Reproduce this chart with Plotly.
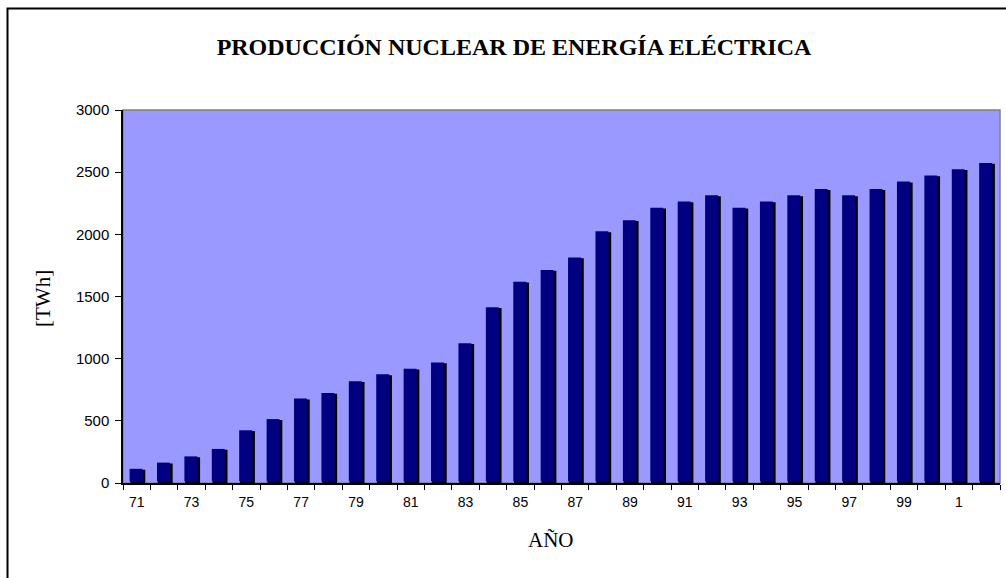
import plotly.graph_objects as go

years = ["71", "72", "73", "74", "75", "76", "77", "78", "79", "80",
         "81", "82", "83", "84", "85", "86", "87", "88", "89", "90",
         "91", "92", "93", "94", "95", "96", "97", "98", "99", "0",
         "1", "2"]
production_twh = [100, 150, 200, 260, 410, 500, 665, 710, 805, 860,
                  905, 955, 1110, 1400, 1605, 1700, 1800, 2010, 2100, 2200,
                  2250, 2300, 2200, 2250, 2300, 2350, 2300, 2350, 2410, 2460,
                  2510, 2560]
tick_labels = [y if i % 2 == 0 else "" for i, y in enumerate(years)]
y_ticks = [0, 500, 1000, 1500, 2000, 2500, 3000]

W, H = 1006, 578
ML, MR, MT, MB = 123, 6, 110, 95
PW, PH = W - ML - MR, H - MT - MB

fig = go.Figure()

# depth face (pseudo 3D), slightly up and left
fig.add_trace(go.Bar(
    x=years, y=production_twh, yaxis="y2",
    width=0.47, offset=-0.26,
    marker=dict(color="#000080", line=dict(width=0)),
    hoverinfo="skip", showlegend=False,
))
# front face
fig.add_trace(go.Bar(
    x=years, y=production_twh,
    width=0.48, offset=-0.2,
    marker=dict(color="#000048", line=dict(color="#000000", width=1.8)),
    showlegend=False,
))

axis_font = dict(family="Liberation Sans, Arial, sans-serif", size=14, color="#000000")
serif = "Liberation Serif, Times New Roman, serif"

fig.update_layout(
    width=W, height=H,
    margin=dict(l=ML, r=MR, t=MT, b=MB, pad=0),
    paper_bgcolor="#FFFFFF",
    plot_bgcolor="#9999FF",
    barmode="overlay",
    title=dict(
        text="<b>PRODUCCIÓN NUCLEAR DE ENERGÍA ELÉCTRICA</b>",
        font=dict(family=serif, size=24, color="#000000"),
        x=514 / W, xanchor="center", xref="container",
        y=1 - 47 / H, yanchor="middle", yref="container",
    ),
    xaxis=dict(
        type="category",
        categoryorder="array", categoryarray=years,
        tickmode="array", tickvals=years, ticktext=tick_labels,
        tickson="boundaries",
        ticks="outside", ticklen=5, tickwidth=1, tickcolor="#000000",
        ticklabelstandoff=5,
        showline=True, linecolor="#000000", linewidth=1.5,
        showgrid=False, zeroline=False,
        tickfont=axis_font,
        range=[-0.5, len(years) - 0.5],
    ),
    yaxis=dict(
        range=[0, 3000],
        tickmode="array", tickvals=y_ticks,
        ticks="outside", ticklen=6, tickwidth=1, tickcolor="#000000",
        ticklabelstandoff=3,
        showline=True, linecolor="#000000", linewidth=1.5,
        showgrid=False, zeroline=False,
        tickfont=dict(family="Liberation Sans, Arial, sans-serif", size=15, color="#000000"),
    ),
    yaxis2=dict(
        range=[-14, 2986], overlaying="y", side="left",
        visible=False, showgrid=False, zeroline=False,
    ),
    shapes=[
        # grey plot-area frame
        dict(type="rect", xref="paper", yref="paper", x0=0, x1=1, y0=0, y1=1,
             line=dict(color="#808080", width=1.5), layer="below"),
        # outer chart frame
        dict(type="rect", xref="paper", yref="paper",
             x0=(7.5 - ML) / PW, x1=1.05,
             y0=-0.5, y1=(MT + PH - 8.5) / PH,
             line=dict(color="#000000", width=2), layer="above"),
    ],
    annotations=[
        dict(text="[TWh]", xref="paper", yref="paper",
             x=(43 - ML) / PW, y=(MT + PH - 299) / PH,
             xanchor="center", yanchor="middle", textangle=-90,
             showarrow=False, font=dict(family=serif, size=21, color="#000000")),
        dict(text="AÑO", xref="paper", yref="paper",
             x=(551 - ML) / PW, y=(MT + PH - 540) / PH,
             xanchor="center", yanchor="middle",
             showarrow=False, font=dict(family=serif, size=21, color="#000000")),
    ],
)

fig.write_html("out.html",
               config={"displayModeBar": False},
               post_script="document.body.style.margin='0';document.body.style.overflow='hidden';")
